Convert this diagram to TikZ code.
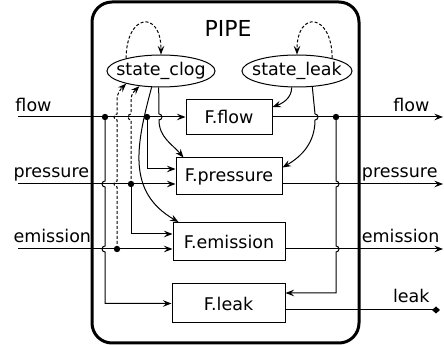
\documentclass[tikz,border=0pt]{standalone}
\usepackage{fontspec}
\setmainfont{DejaVu Sans}
\usetikzlibrary{arrows.meta,shapes.geometric}

\begin{document}
\begin{tikzpicture}[x=1pt,y=1pt,line width=1pt,>={Stealth[length=8.5pt,width=6.5pt,inset=3pt]},
every node/.style={font=\fontsize{17.5}{20}\selectfont},
fbox/.style n args={2}{draw,rectangle,minimum width=#1,minimum height=#2,inner sep=0pt},
st/.style={draw,ellipse,minimum width=#1,minimum height=32pt,inner sep=0pt},
lbl/.style={inner sep=0pt,anchor=base west},
lblr/.style={inner sep=0pt,anchor=base east},
dsh/.style={dash pattern=on 3pt off 2pt}]
\useasboundingbox (0,0) rectangle (444,345);
\node[draw,rectangle,rounded corners=20pt,line width=3pt,minimum width=267pt,minimum height=341pt] (pipe) at (225.5,172.5) {};
\node[font=\fontsize{22}{26}\selectfont] (title) at (228,317) {PIPE};
% states
\node[st=108pt,label=center:state\_clog] (sclog) at (161,274) {};
\node[st=110pt,label=center:state\_leak] (sleak) at (297,274) {};
% functions
\node[fbox={86pt}{35pt}] (fflow) at (229,228) {F.flow};
\node[fbox={106pt}{37pt}] (fpres) at (229,168.5) {F.pressure};
\node[fbox={112pt}{38pt}] (femis) at (229,103.5) {F.emission};
\node[fbox={113pt}{39pt}] (fleak) at (228.5,41.5) {F.leak};
% ports
\coordinate (inflow) at (18,228);
\coordinate (inpres) at (18,161);
\coordinate (inemis) at (18,96);
\coordinate (outflow) at (443,228);
\coordinate (outpres) at (443,161);
\coordinate (outemis) at (443,96);
\coordinate (outleak) at (440,35);
\node[lbl] (lflow) at (15,233) {flow};
\node[lbl] (lpres) at (13,167) {pressure};
\node[lbl] (lemis) at (13,102) {emission};
\node[lblr] (rflow) at (430,233) {flow};
\node[lblr] (rpres) at (438,167) {pressure};
\node[lblr] (remis) at (440,102) {emission};
\node[lblr] (rleak) at (430,42) {leak};
% junctions
\coordinate (jflowA) at (105,228);
\coordinate (jflowB) at (147,228);
\coordinate (jflowC) at (336,228);
\coordinate (jpres) at (131,161);
\coordinate (jemis) at (117,96);
% data lines
\draw[->] (inflow) -- (fflow.west);
\draw[->] (inpres) -- (inpres -| fpres.west);
\draw[->] (inemis) -- (inemis -| femis.west);
\draw[->] (fflow.east) -- (outflow);
\draw[->] (inpres -| fpres.east) -- (outpres);
\draw[->] (inemis -| femis.east) -- (outemis);
\draw[-{Diamond[length=8pt,width=7pt]}] (outleak -| fleak.east) -- (outleak);
\draw[->] (jflowA) -- (105,164) arc[start angle=90,end angle=270,radius=3pt]
   -- (105,99) arc[start angle=90,end angle=270,radius=3pt] |- (fleak.west);
\draw[->] (jflowB) |- ([yshift=7.5pt]fpres.west);
\draw[->] (jpres) |- ([yshift=7.5pt]femis.west);
\draw[->] (jflowC) -- (336,164) arc[start angle=90,end angle=-90,radius=3pt]
   -- (336,99) arc[start angle=90,end angle=-90,radius=3pt] |- ([yshift=10.5pt]fleak.east);
% state lines
\draw[->,dsh] (jemis) -- (117,158) arc[start angle=270,end angle=90,radius=3pt]
   -- (117,225) arc[start angle=270,end angle=90,radius=3pt] -- (117,245) to[out=90,in=225] (sclog.200);
\draw[->,dsh] (jpres) -- (131,225) arc[start angle=270,end angle=90,radius=3pt]
   -- (131,245) to[out=90,in=225] (sclog.215);
\draw[->,dsh] (sclog.160) .. controls +(0,45) and +(0,45) .. (sclog.north);
\draw[->,dsh] (sleak.20) .. controls +(0,45) and +(0,45) .. (sleak.north);
\draw[->] (sclog.240) .. controls +(255:60) and +(150:60) .. ([xshift=6pt]femis.north west);
\draw[->] (sclog.262) -- (159,231) arc[start angle=90,end angle=-90,radius=3pt]
   to[out=-90,in=130] ([xshift=8pt]fpres.north west);
\draw[->] (sleak.252) to[out=-90,in=20] ([yshift=10pt]fflow.east);
\draw[->] (sleak.314) -- (315,231) arc[start angle=90,end angle=-90,radius=3pt]
   to[out=-90,in=30] ([yshift=9pt]fpres.east);
\foreach \j in {jflowA,jflowB,jflowC,jpres,jemis}
   \fill (\j) circle[radius=3.2pt];
\end{tikzpicture}
\end{document}
